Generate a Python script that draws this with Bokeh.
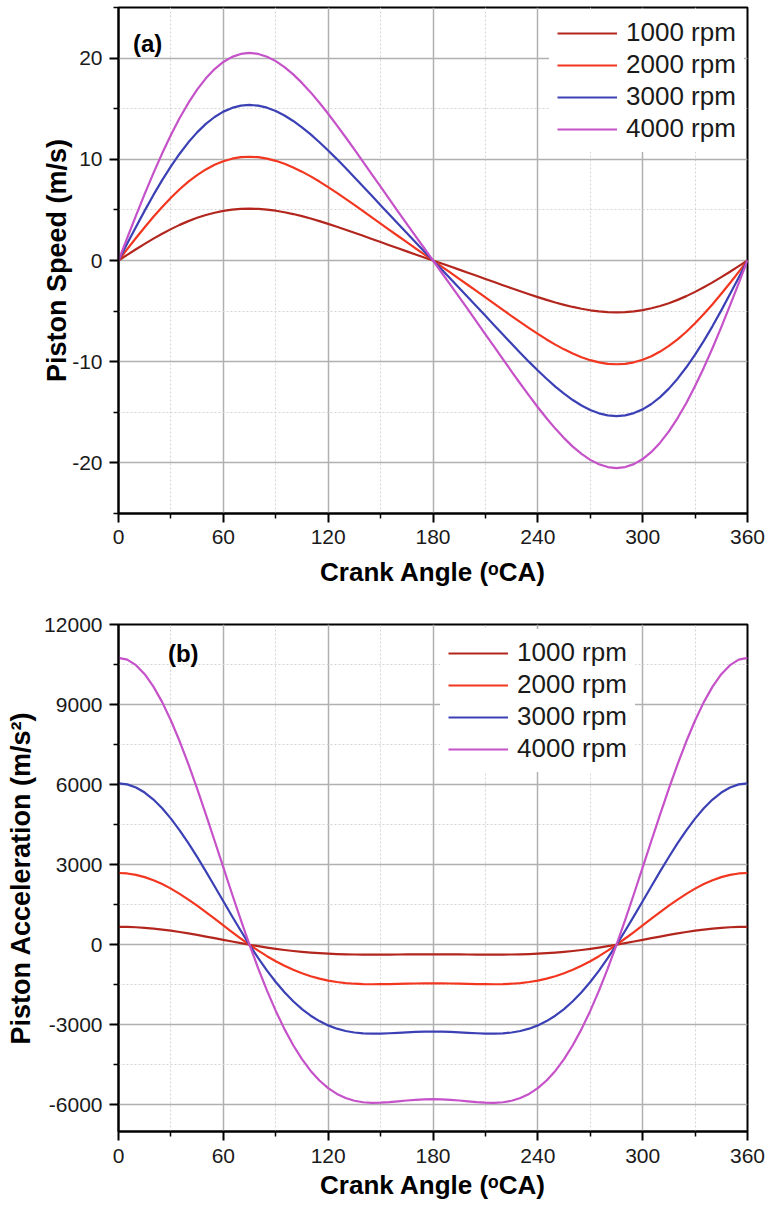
from bokeh.plotting import figure
from bokeh.layouts import column
from bokeh.models import FixedTicker, Label, Range1d
from bokeh.embed import file_html
from bokeh.resources import INLINE

FONT = "Liberation Sans"

# ---------------- data ----------------
series_names = ["1000 rpm", "2000 rpm", "3000 rpm", "4000 rpm"]
series_colors = ["#B3261E", "#F2361F", "#3B40B4", "#C552C8"]

crank_angle = list(range(0, 361, 5))

speed_1000 = [0, 0.56, 1.11, 1.64, 2.16, 2.64, 3.10, 3.52, 3.89, 4.22, 4.50, 4.72, 4.90, 5.02, 5.10, 5.12, 5.10, 5.03, 4.92,
              4.77, 4.59, 4.38, 4.15, 3.89, 3.62, 3.34, 3.04, 2.74, 2.44, 2.13, 1.82, 1.51, 1.21, 0.90, 0.60, 0.30, 0,
              -0.30, -0.60, -0.90, -1.21, -1.51, -1.82, -2.13, -2.44, -2.74, -3.04, -3.34, -3.62, -3.89, -4.15, -4.38, -4.59,
              -4.77, -4.92, -5.03, -5.10, -5.12, -5.10, -5.02, -4.90, -4.72, -4.50, -4.22, -3.89, -3.52, -3.10, -2.64, -2.16,
              -1.64, -1.11, -0.56, 0]
speed_2000 = [0, 1.12, 2.22, 3.29, 4.32, 5.29, 6.20, 7.04, 7.79, 8.44, 9.00, 9.46, 9.81, 10.06, 10.21, 10.25, 10.21, 10.07, 9.85,
              9.56, 9.20, 8.78, 8.31, 7.80, 7.25, 6.68, 6.09, 5.49, 4.88, 4.26, 3.65, 3.03, 2.42, 1.81, 1.20, 0.60, 0,
              -0.60, -1.20, -1.81, -2.42, -3.03, -3.65, -4.26, -4.88, -5.49, -6.09, -6.68, -7.25, -7.80, -8.31, -8.78, -9.20,
              -9.56, -9.85, -10.07, -10.21, -10.25, -10.21, -10.06, -9.81, -9.46, -9.00, -8.44, -7.79, -7.04, -6.20, -5.29,
              -4.32, -3.29, -2.22, -1.12, 0]
speed_3000 = [0, 1.67, 3.32, 4.93, 6.48, 7.94, 9.30, 10.55, 11.68, 12.66, 13.50, 14.18, 14.71, 15.08, 15.30, 15.37, 15.30, 15.10,
              14.77, 14.33, 13.79, 13.16, 12.46, 11.69, 10.87, 10.02, 9.13, 8.23, 7.31, 6.39, 5.47, 4.54, 3.63, 2.71, 1.81, 0.90, 0,
              -0.90, -1.81, -2.71, -3.63, -4.54, -5.47, -6.39, -7.31, -8.23, -9.13, -10.02, -10.87, -11.69, -12.46, -13.16,
              -13.79, -14.33, -14.77, -15.10, -15.30, -15.37, -15.30, -15.08, -14.71, -14.18, -13.50, -12.66, -11.68, -10.55,
              -9.30, -7.94, -6.48, -4.93, -3.32, -1.67, 0]
speed_4000 = [0, 2.23, 4.43, 6.58, 8.64, 10.59, 12.41, 14.08, 15.57, 16.88, 18.00, 18.92, 19.62, 20.12, 20.41, 20.51, 20.41,
              20.14, 19.70, 19.11, 18.39, 17.55, 16.61, 15.59, 14.50, 13.36, 12.18, 10.97, 9.75, 8.52, 7.29, 6.06, 4.84, 3.62,
              2.41, 1.21, 0,
              -1.21, -2.41, -3.62, -4.84, -6.06, -7.29, -8.52, -9.75, -10.97, -12.18, -13.36, -14.50, -15.59, -16.61, -17.55,
              -18.39, -19.11, -19.70, -20.14, -20.41, -20.51, -20.41, -20.12, -19.62, -18.92, -18.00, -16.88, -15.57, -14.08,
              -12.41, -10.59, -8.64, -6.58, -4.43, -2.23, 0]

accel_1000 = [672, 668, 655, 634, 605, 568, 525, 477, 423, 366, 305, 244, 181, 119, 58, -1, -56, -108, -155, -198, -235,
              -268, -296, -318, -336, -350, -359, -366, -369, -370, -370, -369, -367, -365, -363, -362, -362,
              -362, -363, -365, -367, -369, -370, -370, -369, -366, -359, -350, -336, -318, -296, -268, -235, -198, -155,
              -108, -56, -1, 58, 119, 181, 244, 305, 366, 423, 477, 525, 568, 605, 634, 655, 668, 672]
accel_2000 = [2688, 2670, 2619, 2534, 2418, 2272, 2101, 1906, 1691, 1462, 1221, 974, 724, 475, 232, -2, -224, -430, -620,
              -791, -942, -1072, -1182, -1272, -1344, -1398, -1437, -1462, -1476, -1482, -1480, -1475, -1468, -1460, -1453,
              -1449, -1447,
              -1449, -1453, -1460, -1468, -1475, -1480, -1482, -1476, -1462, -1437, -1398, -1344, -1272, -1182, -1072, -942,
              -791, -620, -430, -224, -2, 232, 475, 724, 974, 1221, 1462, 1691, 1906, 2101, 2272, 2418, 2534, 2619, 2670, 2688]
accel_3000 = [6048, 6009, 5893, 5702, 5441, 5113, 4726, 4288, 3806, 3289, 2748, 2191, 1628, 1069, 522, -5, -504, -969,
              -1396, -1780, -2119, -2413, -2660, -2863, -3024, -3146, -3233, -3289, -3321, -3334, -3331, -3319, -3302, -3285,
              -3270, -3260, -3256,
              -3260, -3270, -3285, -3302, -3319, -3331, -3334, -3321, -3289, -3233, -3146, -3024, -2863, -2660, -2413, -2119,
              -1780, -1396, -969, -504, -5, 522, 1069, 1628, 2191, 2748, 3289, 3806, 4288, 4726, 5113, 5441, 5702, 5893,
              6009, 6048]
accel_4000 = [10751, 10682, 10476, 10137, 9672, 9090, 8402, 7623, 6766, 5848, 4885, 3895, 2895, 1900, 928, -8, -896,
              -1722, -2481, -3164, -3767, -4289, -4729, -5089, -5376, -5592, -5747, -5848, -5904, -5926, -5921, -5901,
              -5871, -5839, -5813, -5796, -5789,
              -5796, -5813, -5839, -5871, -5901, -5921, -5926, -5904, -5848, -5747, -5592, -5376, -5089, -4729, -4289,
              -3767, -3164, -2481, -1722, -896, -8, 928, 1900, 2895, 3895, 4885, 5848, 6766, 7623, 8402, 9090, 9672,
              10137, 10476, 10682, 10751]

x_ticks = [0, 60, 120, 180, 240, 300, 360]
x_minor = [30, 90, 150, 210, 270, 330]
speed_ticks = [-20, -10, 0, 10, 20]
speed_minor = [-25, -15, -5, 5, 15, 25]
accel_ticks = [-6000, -3000, 0, 3000, 6000, 9000, 12000]
accel_minor = [-4500, -1500, 1500, 4500, 7500, 10500]


def make_panel(height, b_top, b_bottom, yrange, yticks, yminor, ylabel, ys_list,
               lbl_standoff, title_standoff, ytitle_standoff):
    p = figure(width=768, height=height, output_backend="svg", toolbar_location=None,
               x_range=Range1d(0, 360), y_range=Range1d(*yrange),
               min_border_left=118, min_border_right=21,
               min_border_top=b_top, min_border_bottom=b_bottom,
               background_fill_color="white", border_fill_color="white")
    for ys, name, col in zip(ys_list, series_names, series_colors):
        p.line(crank_angle, ys, line_color=col, line_width=2.2, legend_label=name, line_join="round")

    p.xaxis.ticker = FixedTicker(ticks=x_ticks, minor_ticks=x_minor)
    p.yaxis.ticker = FixedTicker(ticks=yticks, minor_ticks=yminor)
    p.yaxis.major_label_overrides = {t: str(t) for t in yticks}

    p.xaxis.axis_label = "Crank Angle (ᵒCA)"
    p.yaxis.axis_label = ylabel
    for ax in (p.xaxis, p.yaxis):
        ax.axis_line_color = "black"
        ax.axis_line_width = 2
        ax.major_tick_line_color = "black"
        ax.major_tick_line_width = 2
        ax.minor_tick_line_color = "black"
        ax.minor_tick_line_width = 1.5
        ax.major_tick_in = 0
        ax.major_tick_out = 9
        ax.minor_tick_in = 0
        ax.minor_tick_out = 5
        ax.major_label_text_font = FONT
        ax.major_label_text_font_size = "21px"
        ax.major_label_text_color = "#1a1a1a"
        ax.axis_label_text_font = FONT
        ax.axis_label_text_font_style = "bold"
        ax.axis_label_text_color = "black"
    p.xaxis.axis_label_text_font_size = "26px"
    p.yaxis.axis_label_text_font_size = "27px"
    p.xaxis.major_label_standoff = lbl_standoff
    p.xaxis.axis_label_standoff = title_standoff
    p.yaxis.major_label_standoff = 7
    p.yaxis.axis_label_standoff = ytitle_standoff

    for g in (p.xgrid, p.ygrid):
        g.grid_line_color = "#b0b0b0"
        g.grid_line_width = 1.5
        g.minor_grid_line_color = "#d4d4d4"
        g.minor_grid_line_width = 1
        g.minor_grid_line_dash = "2 2"

    p.outline_line_color = "black"
    p.outline_line_width = 2
    p.outline_line_alpha = 1

    lg = p.legend[0]
    lg.border_line_alpha = 0
    lg.background_fill_color = "white"
    lg.background_fill_alpha = 1
    lg.label_text_font = FONT
    lg.label_text_font_size = "26px"
    lg.label_text_color = "#1a1a1a"
    lg.glyph_width = 60
    lg.glyph_height = 30
    lg.label_height = 30
    lg.spacing = 1
    lg.padding = 8
    lg.margin = 0
    lg.label_standoff = 9
    return p


p1 = make_panel(600, 7, 87, (-25, 25), speed_ticks, speed_minor, "Piston Speed (m/s)",
                [speed_1000, speed_2000, speed_3000, speed_4000], 7, 10, -3)
p1.legend[0].location = (431, 361)
p1.add_layout(Label(x=8.3, y=21.4, text="(a)", text_font=FONT, text_font_style="bold",
                    text_font_size="24px", text_color="black", text_baseline="alphabetic"))

p2 = make_panel(606, 24, 75, (-7000, 12000), accel_ticks, accel_minor, "Piston Acceleration (m/s²)",
                [accel_1000, accel_2000, accel_3000, accel_4000], 8, 4, 5)
p2.legend[0].location = (322, 359)
p2.add_layout(Label(x=28.3, y=10900, text="(b)", text_font=FONT, text_font_style="bold",
                    text_font_size="24px", text_color="black", text_baseline="alphabetic"))

layout = column(p1, p2, spacing=0)
open("out.html", "w").write(file_html(layout, INLINE))
